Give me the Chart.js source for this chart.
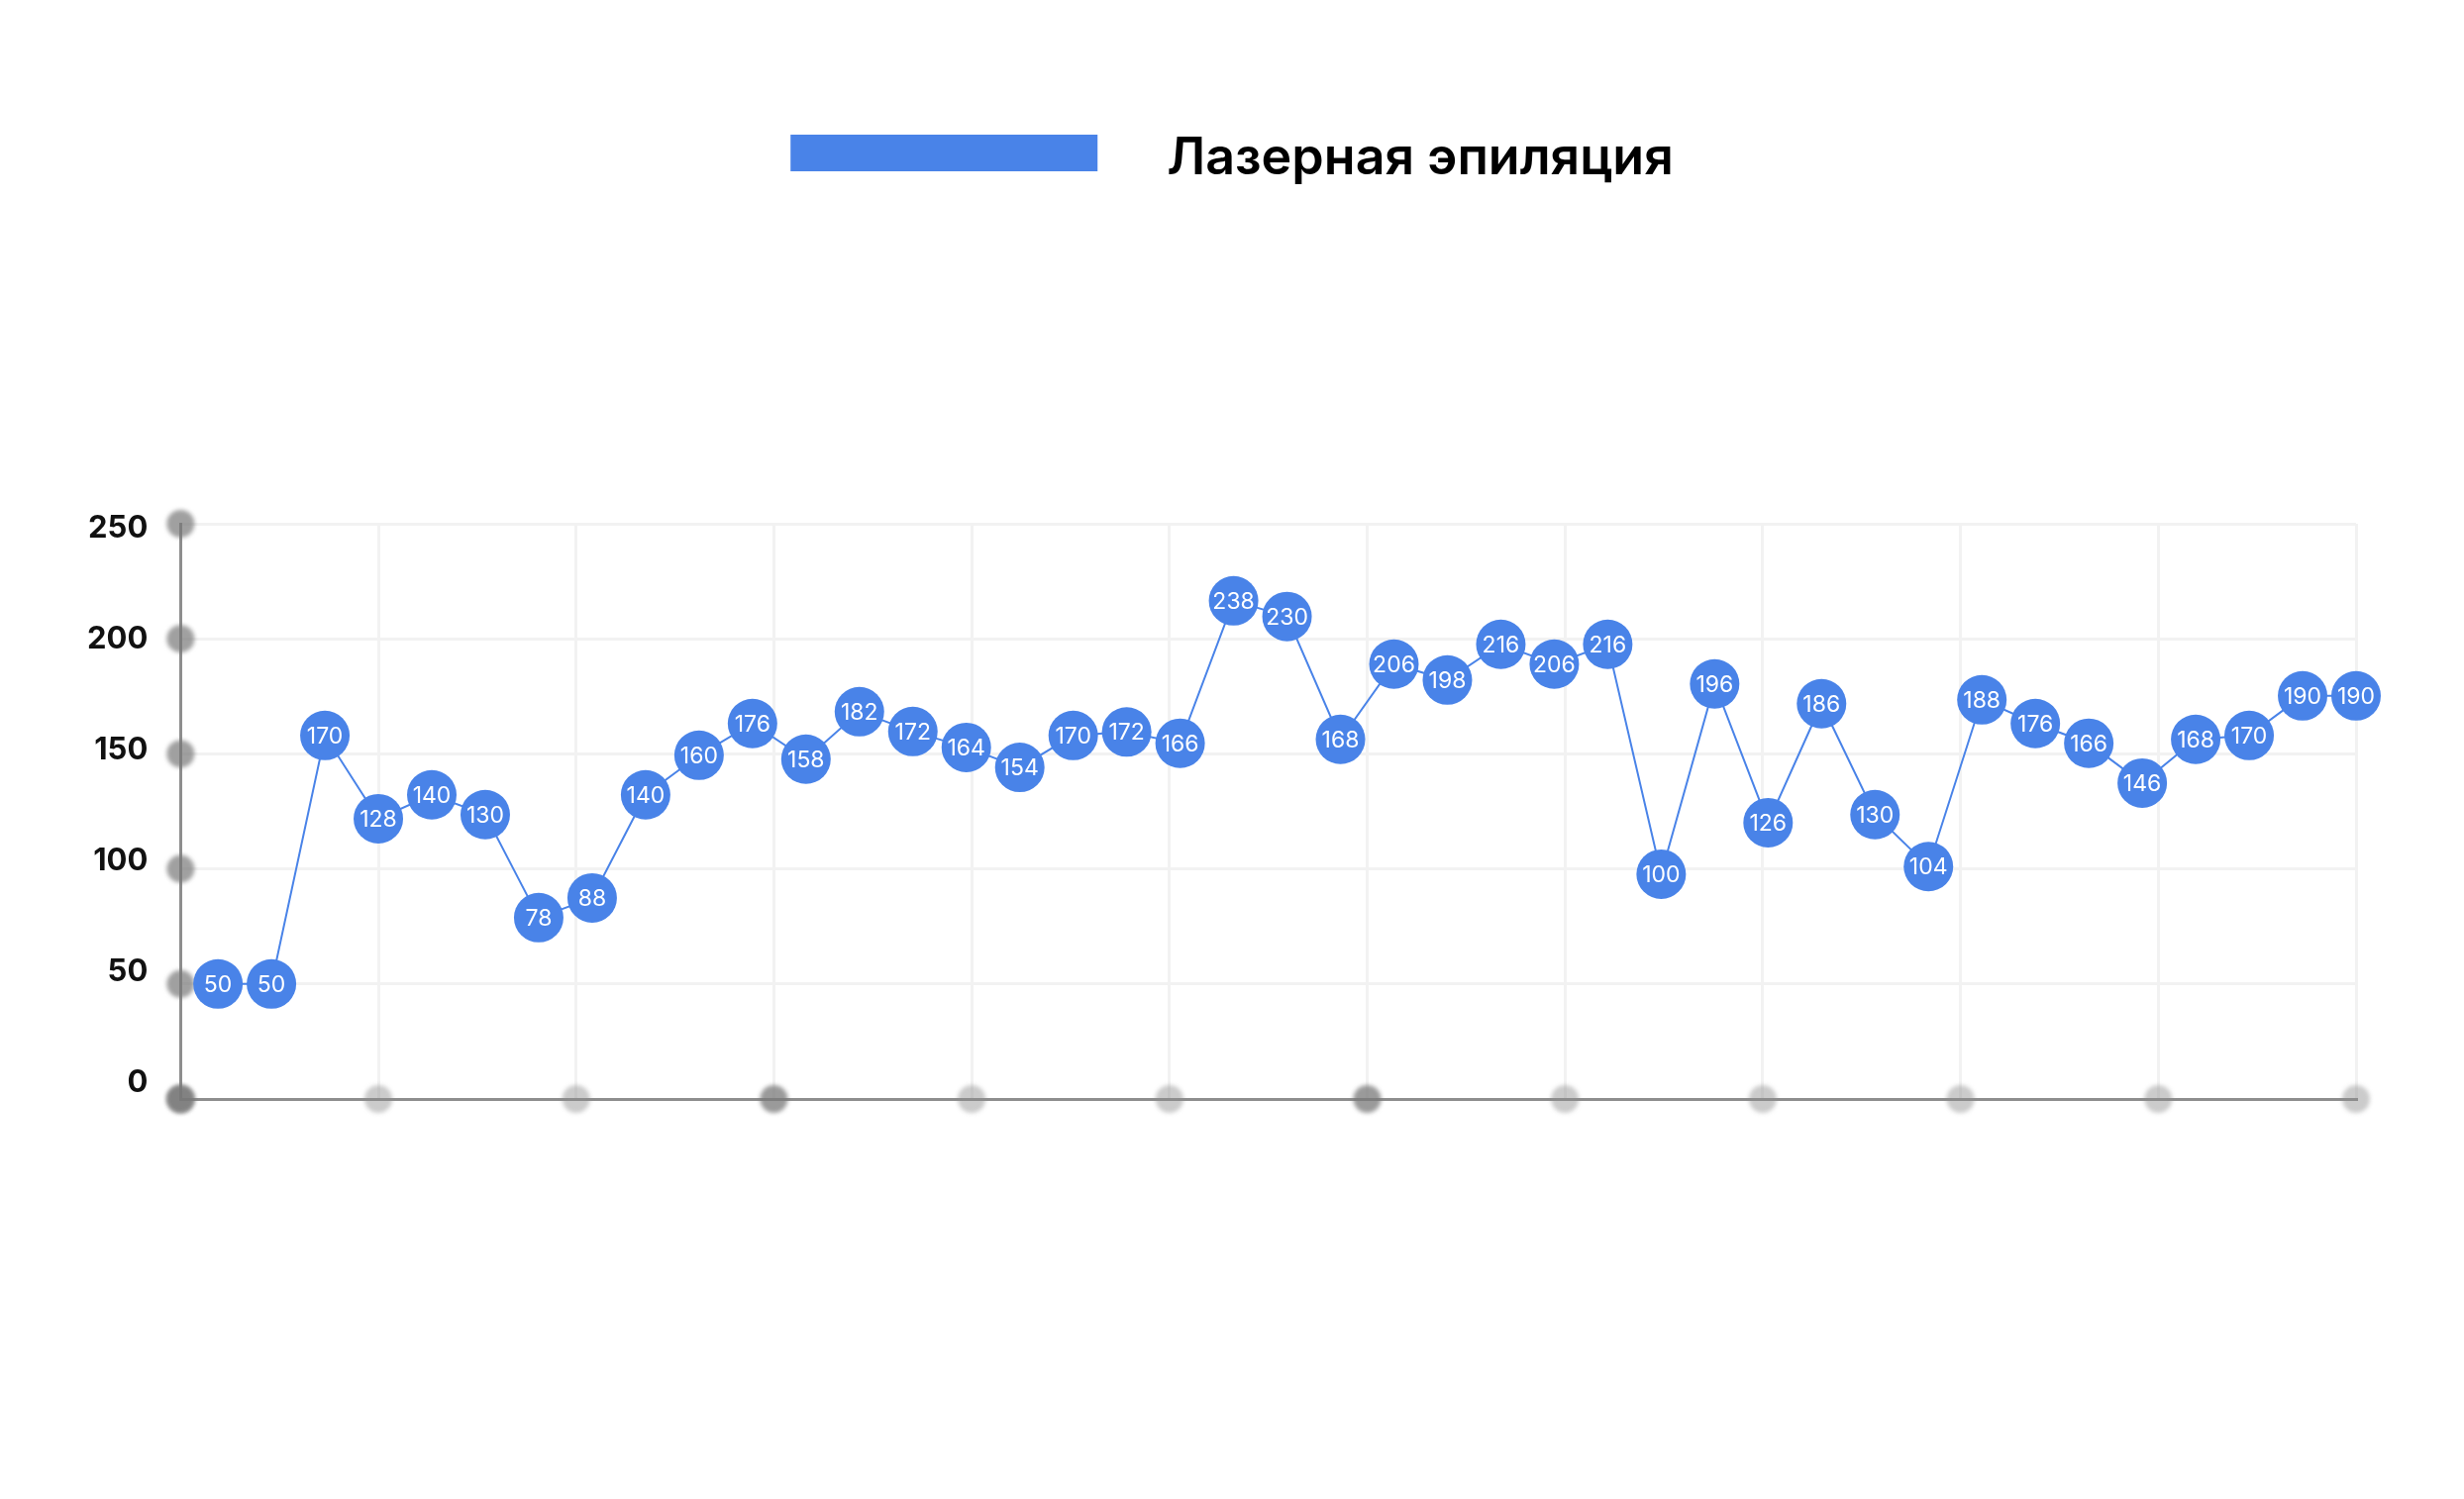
<!DOCTYPE html>
<html lang="ru">
<head>
<meta charset="utf-8">
<title>Лазерная эпиляция</title>
<script src="https://cdn.jsdelivr.net/npm/chart.js@4.4.1/dist/chart.umd.min.js"></script>
<style>
  html, body { margin: 0; padding: 0; background: #fff; }
  #wrap { width: 100vw; height: 100vh; }
</style>
</head>
<body>
<div id="wrap"><canvas id="chart"></canvas></div>
<script>
// Series name
const seriesName = 'Лазерная эпиляция';

// Numbers printed inside the markers
const pointLabels = [50, 50, 170, 128, 140, 130, 78, 88, 140, 160, 176, 158, 182, 172, 164, 154, 170, 172, 166, 238,
  230, 168, 206, 198, 216, 206, 216, 100, 196, 126, 186, 130, 104, 188, 176, 166, 146, 168, 170, 190, 190];

// Marker heights as read against the y axis grid
const pointValues = [50, 50, 158, 121.8, 132.2, 123.6, 78.8, 87.4, 132.2, 149.4, 163.2, 147.7, 168.3, 159.7, 152.8,
  144.1, 158, 159.5, 154.6, 216.5, 209.7, 156.3, 189, 182.1, 197.6, 189, 197.6, 97.7, 180.4, 120.1, 171.8, 123.6,
  101, 173.5, 163.2, 154.6, 137.3, 156.3, 158, 175.2, 175.2];

// Y axis tick labels
const yTicks = [0, 50, 100, 150, 200, 250];

// Vertical grid divisions along the x axis
const xDivisions = 11;

const BLUE = '#4983e8';
const AXIS_GRAY = '#8e8e8e';
const GRID_GRAY = '#f2f2f2';

// x range: first marker sits a little right of the y axis
const X_MIN = -0.7;
const X_MAX = pointValues.length - 1;
const xGridTicks = [];
for (let k = 0; k <= xDivisions; k++) {
  xGridTicks.push(X_MIN + (X_MAX - X_MIN) * k / xDivisions);
}

// darker tick dots on the x axis
const darkXDots = [0, 3, 6];

// Blur the tick dots
const blurDots = {
  id: 'blurDots',
  beforeDatasetDraw(chart, args) {
    if (args.index > 0) {
      chart.ctx.save();
      chart.ctx.filter = 'blur(2px)';
    }
  },
  afterDatasetDraw(chart, args) {
    if (args.index > 0) chart.ctx.restore();
  }
};

// Numbers inside the markers
const markerText = {
  id: 'markerText',
  afterDatasetDraw(chart, args) {
    if (args.index !== 0) return;
    const ctx = chart.ctx;
    ctx.save();
    ctx.font = '400 23px Inter';
    ctx.fillStyle = '#fff';
    ctx.textAlign = 'center';
    ctx.textBaseline = 'middle';
    args.meta.data.forEach((pt, i) => {
      ctx.fillText(String(pointLabels[i]), pt.x, pt.y + 1);
    });
    ctx.restore();
  }
};

// Legend: long bar and series name, centered on top
const legendBar = {
  id: 'legendBar',
  afterDraw(chart) {
    const ctx = chart.ctx;
    ctx.save();
    ctx.font = '600 52px Inter';
    const textW = ctx.measureText(seriesName).width;
    const boxW = 310, gap = 70;
    const startX = (chart.width - (boxW + gap + textW)) / 2;
    ctx.fillStyle = BLUE;
    ctx.fillRect(startX, 136, boxW, 37);
    ctx.fillStyle = '#000';
    ctx.textBaseline = 'alphabetic';
    ctx.fillText(seriesName, startX + boxW + gap, 176);
    ctx.restore();
  }
};

const ctx = document.getElementById('chart').getContext('2d');
const chart = new Chart(ctx, {
  type: 'line',
  data: {
    datasets: [
      {
        label: seriesName,
        data: pointValues.map((v, i) => ({ x: i, y: v })),
        borderColor: BLUE,
        backgroundColor: BLUE,
        borderWidth: 2,
        pointRadius: 25,
        pointHoverRadius: 25,
        pointBorderWidth: 0,
        pointBackgroundColor: BLUE,
        tension: 0,
        clip: false,
        order: 0
      },
      {
        label: 'x ticks',
        data: xGridTicks.map(x => ({ x: x, y: 0 })),
        showLine: false,
        pointRadius: 14,
        pointBorderWidth: 0,
        pointBackgroundColor: c => darkXDots.includes(c.dataIndex) ? 'rgba(120,120,120,0.75)' : 'rgba(140,140,140,0.45)',
        clip: false,
        order: 2
      },
      {
        label: 'y ticks',
        data: yTicks.map(y => ({ x: X_MIN, y: y })),
        showLine: false,
        pointRadius: 14,
        pointBorderWidth: 0,
        pointBackgroundColor: 'rgba(120,120,120,0.7)',
        clip: false,
        order: 1
      }
    ]
  },
  options: {
    responsive: true,
    maintainAspectRatio: false,
    animation: false,
    layout: {
      padding: { top: 529, bottom: 404, left: 55, right: 109 }
    },
    plugins: {
      legend: { display: false },
      tooltip: { enabled: false }
    },
    scales: {
      x: {
        type: 'linear',
        min: X_MIN,
        max: X_MAX,
        afterBuildTicks: s => { s.ticks = xGridTicks.map(v => ({ value: v })); },
        ticks: { display: false },
        grid: { color: GRID_GRAY, lineWidth: 3, drawTicks: false },
        border: { color: AXIS_GRAY, width: 3 }
      },
      y: {
        min: 0,
        max: 250,
        weight: 0,
        afterBuildTicks: s => { s.ticks = yTicks.map(v => ({ value: v })); },
        ticks: { display: false },
        grid: { color: GRID_GRAY, lineWidth: 3, drawTicks: false },
        border: { color: AXIS_GRAY, width: 3 }
      },
      // labels only, they sit slightly closer together than the grid lines
      yLabels: {
        position: 'left',
        weight: 1,
        min: -7.1,
        max: 252.2,
        afterBuildTicks: s => { s.ticks = yTicks.map(v => ({ value: v })); },
        grid: { display: false, drawTicks: false },
        border: { display: false },
        ticks: {
          padding: 33,
          color: '#111',
          font: { family: 'Inter', size: 31, weight: '700' }
        }
      }
    }
  },
  plugins: [blurDots, markerText, legendBar]
});
</script>
</body>
</html>
